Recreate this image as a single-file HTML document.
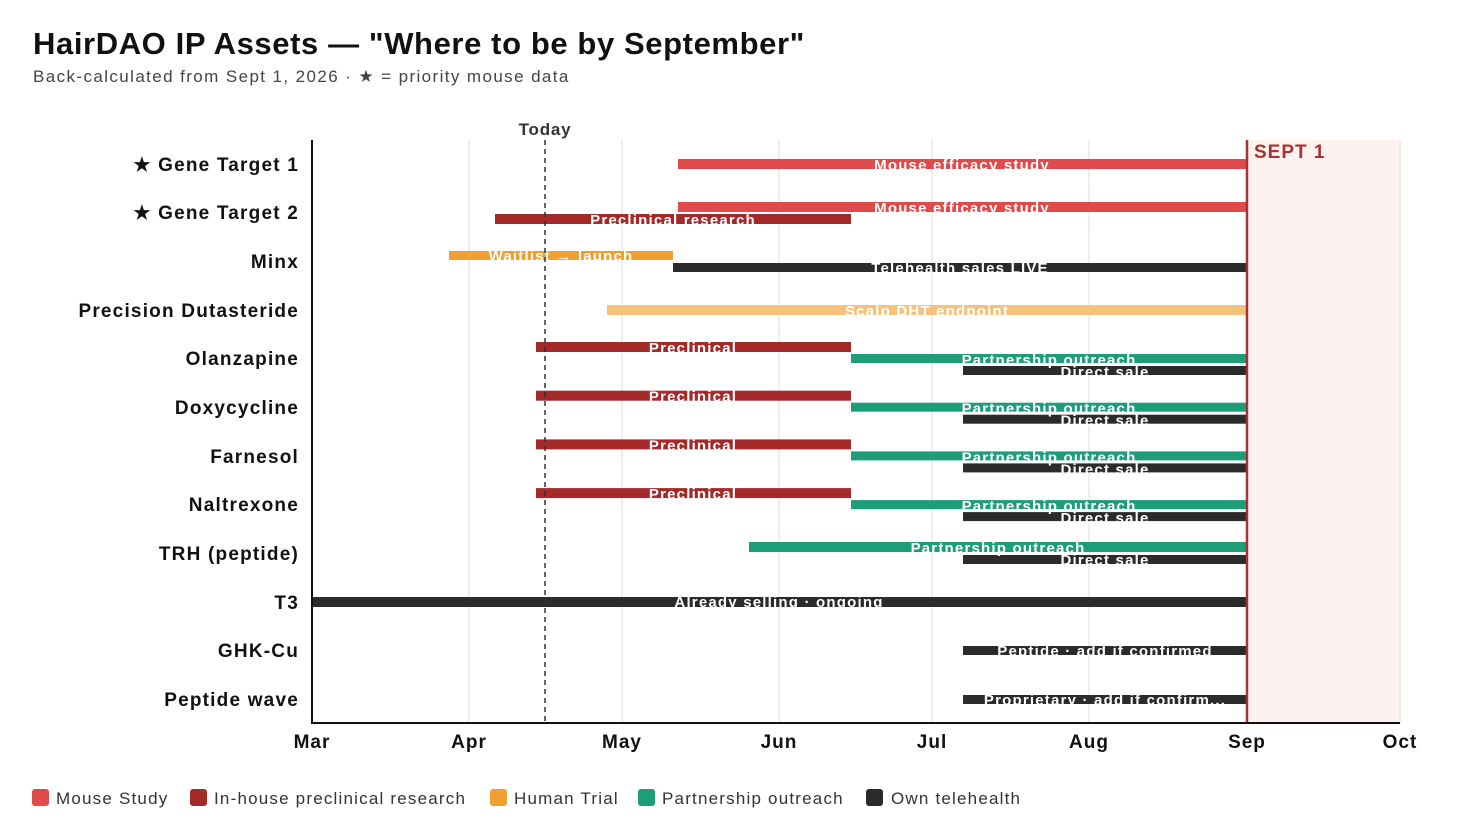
<!DOCTYPE html><html><head><meta charset="utf-8"><style>body{margin:0;background:#fff}svg{display:block;font-family:"Liberation Sans",sans-serif}</style></head><body>
<svg width="1472" height="832" viewBox="0 0 1472 832">
<text x="33" y="54" font-size="31" font-weight="bold" fill="#111" letter-spacing="0.6">HairDAO IP Assets — "Where to be by September"</text>
<text x="33" y="82" font-size="17" fill="#444" letter-spacing="1.4">Back-calculated from Sept 1, 2026  ·  ★ = priority mouse data</text>
<rect x="1247" y="140" width="153" height="583" fill="#fdf2f0"/>
<g stroke="#e8e8e8" stroke-width="1.5">
<line x1="469" y1="140" x2="469" y2="723"/><line x1="622" y1="140" x2="622" y2="723"/><line x1="779" y1="140" x2="779" y2="723"/><line x1="932" y1="140" x2="932" y2="723"/><line x1="1089" y1="140" x2="1089" y2="723"/><line x1="1400" y1="140" x2="1400" y2="723"/></g>
<g fill="none">
<rect x="678" y="159" width="569" height="10" fill="#e04a4a"/>
<rect x="678" y="202" width="569" height="10" fill="#e04a4a"/>
<rect x="495" y="214" width="356" height="10" fill="#a42a2a"/>
<rect x="449" y="251" width="224" height="9" fill="#f0a030"/>
<rect x="673" y="263" width="574" height="9" fill="#2b2b2b"/>
<rect x="607" y="305" width="640" height="10" fill="#f6c27a"/>
<rect x="749" y="542" width="498" height="10" fill="#1e9e78"/>
<rect x="963" y="555" width="284" height="9" fill="#2b2b2b"/>
<rect x="312" y="597" width="935" height="10" fill="#2b2b2b"/>
<rect x="963" y="646" width="284" height="9" fill="#2b2b2b"/>
<rect x="963" y="695" width="284" height="9" fill="#2b2b2b"/>
</g>
<g id="r1">
<rect x="536" y="342" width="315" height="10" fill="#a42a2a"/>
<rect x="851" y="354" width="396" height="9" fill="#1e9e78"/>
<rect x="963" y="366" width="284" height="9" fill="#2b2b2b"/>
<g font-size="15" font-weight="bold" fill="#fff" text-anchor="middle" letter-spacing="1.2">
<text x="693" y="353">Preclinical</text><text x="1049" y="365">Partnership outreach</text><text x="1105" y="377">Direct sale</text></g>
</g>
<use href="#r1" y="48.7"/><use href="#r1" y="97.4"/><use href="#r1" y="146.1"/>
<g font-size="15" font-weight="bold" fill="#fff" text-anchor="middle" letter-spacing="1.2">
<text x="962" y="170">Mouse efficacy study</text>
<text x="962" y="213">Mouse efficacy study</text>
<text x="673" y="225">Preclinical research</text>
<text x="561" y="261">Waitlist → launch</text>
<text x="960" y="273">Telehealth sales LIVE</text>
<text x="927" y="316">Scalp DHT endpoint</text>
<text x="998" y="553">Partnership outreach</text>
<text x="1105" y="565">Direct sale</text>
<text x="779" y="607">Already selling · ongoing</text>
<text x="1105" y="656">Peptide · add if confirmed</text>
<text x="1105" y="705">Proprietary · add if confirm...</text>
</g>
<line x1="545" y1="140" x2="545" y2="723" stroke="#333" stroke-width="1.5" stroke-dasharray="5,4"/>
<text x="545" y="135" font-size="17" font-weight="bold" fill="#333" text-anchor="middle" letter-spacing="0.8">Today</text>
<line x1="1247" y1="140" x2="1247" y2="723" stroke="#a83232" stroke-width="2.5"/>
<text x="1254" y="158" font-size="19" font-weight="bold" fill="#a83232" letter-spacing="1">SEPT 1</text>
<line x1="312" y1="140" x2="312" y2="724" stroke="#111" stroke-width="2"/>
<line x1="311" y1="723" x2="1400" y2="723" stroke="#111" stroke-width="2"/>
<g font-size="19" font-weight="bold" fill="#111" text-anchor="end" letter-spacing="1.2">
<text x="299" y="171">★ Gene Target 1</text><text x="299" y="219">★ Gene Target 2</text><text x="299" y="268">Minx</text><text x="299" y="317">Precision Dutasteride</text><text x="299" y="365">Olanzapine</text><text x="299" y="414">Doxycycline</text><text x="299" y="463">Farnesol</text><text x="299" y="511">Naltrexone</text><text x="299" y="560">TRH (peptide)</text><text x="299" y="609">T3</text><text x="299" y="657">GHK-Cu</text><text x="299" y="706">Peptide wave</text></g>
<g font-size="19" font-weight="bold" fill="#111" text-anchor="middle" letter-spacing="1">
<text x="312" y="748">Mar</text><text x="469" y="748">Apr</text><text x="622" y="748">May</text><text x="779" y="748">Jun</text><text x="932" y="748">Jul</text><text x="1089" y="748">Aug</text><text x="1247" y="748">Sep</text><text x="1400" y="748">Oct</text></g>
<g font-size="17" fill="#333" letter-spacing="1.2">
<rect x="32" y="789" width="17" height="17" rx="3" fill="#e04a4a"/><text x="56" y="804">Mouse Study</text>
<rect x="190" y="789" width="17" height="17" rx="3" fill="#a42a2a"/><text x="214" y="804">In-house preclinical research</text>
<rect x="490" y="789" width="17" height="17" rx="3" fill="#f0a030"/><text x="514" y="804">Human Trial</text>
<rect x="638" y="789" width="17" height="17" rx="3" fill="#1e9e78"/><text x="662" y="804">Partnership outreach</text>
<rect x="866" y="789" width="17" height="17" rx="3" fill="#2b2b2b"/><text x="891" y="804">Own telehealth</text>
</g>
</svg></body></html>
